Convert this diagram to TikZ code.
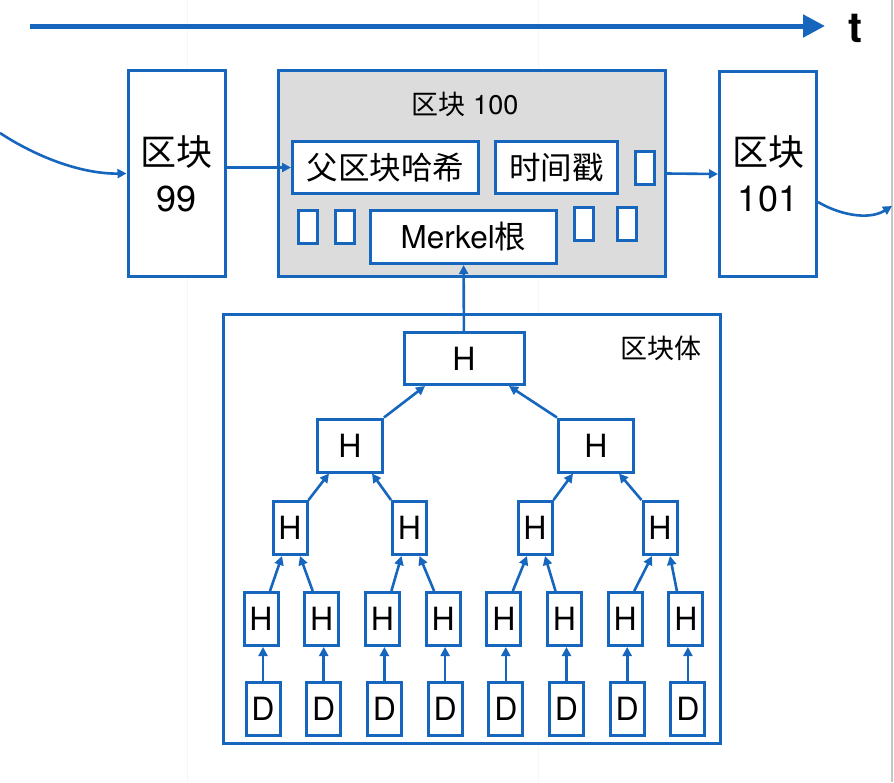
\documentclass[tikz,border=0pt]{standalone}
\usepackage{fontspec}
\setmainfont{TeX Gyre Heros}
\newfontfamily\cjk{Noto Sans CJK SC}
\usetikzlibrary{arrows.meta,positioning,shadows}
\definecolor{chainblue}{RGB}{22,102,190}
\definecolor{headgray}{RGB}{220,220,220}
\newcommand\blockfont{\fontsize{36}{46}\selectfont}
\newcommand\fieldfont{\fontsize{31.5}{31.5}\selectfont}
\newcommand\labelfont{\fontsize{27}{27}\selectfont}
\newcommand\hashfont{\fontsize{32}{32}\selectfont}

\begin{document}
\begin{tikzpicture}[x=1pt,y=-1pt]
\tikzstyle{box}=[draw=chainblue,line width=3pt,fill=white,inner sep=0pt,
drop shadow={opacity=0.2,shadow xshift=1pt,shadow yshift=-1.5pt}]
\tikzstyle{hbox}=[box,minimum width=34pt,minimum height=53pt,
font=\hashfont,node distance=60.7pt]
\tikzstyle{slot}=[box,minimum width=19pt,minimum height=33pt]
\tikzstyle{link}=[color=chainblue,line width=2.6pt,-{Triangle[length=9pt,width=9pt]}]

\useasboundingbox (0,0) rectangle (894,782);
% page guides
\draw[gray!7,line width=1pt] (187,0) -- (187,782);
\draw[gray!7,line width=1pt] (538,0) -- (538,782);
\draw[gray!45,line width=1.5pt] (892,0) -- (892,782);

% time axis
\coordinate (tstart) at (30,26);
\coordinate (tend) at (825,26);
\node[font=\fontsize{42}{42}\selectfont\bfseries] (tlab) at (855,28) {t};
\draw[chainblue,line width=5pt,-{Triangle[length=22pt,width=22pt]}] (tstart) -- (tend);

% chain of blocks
\node[box,minimum width=97pt,minimum height=206pt,align=center,font=\blockfont]
  (b99) at (176.5,173.5) {{\cjk 区块}\\99};
\node[box,fill=headgray,minimum width=387pt,minimum height=206pt] (b100) at (472,173.5) {};
\node[box,minimum width=97pt,minimum height=205pt,align=center,font=\blockfont]
  (b101) at (768,174) {{\cjk 区块}\\101};
\node[font=\labelfont] (lab100) at (465,104) {{\cjk 区块} 100};
\node[box,minimum width=186pt,minimum height=52pt,font=\fieldfont] (phash) at (385.5,167.5) {\cjk 父区块哈希};
\node[box,minimum width=122pt,minimum height=52pt,font=\fieldfont] (tstamp) at (556.5,167.5) {\cjk 时间戳};
\node[slot] (s1) at (645,167.5) {};
\node[slot] (s2) at (307.5,227) {};
\node[slot] (s3) at (345,227) {};
\node[box,minimum width=186pt,minimum height=53pt,font=\fieldfont] (mroot) at (463.5,237) {Merkel{\cjk 根}};
\node[slot] (s4) at (584,224) {};
\node[slot] (s5) at (627,224) {};

\coordinate (inL) at (0,133);
\coordinate (outR) at (892,206);
\draw[link] (inL) .. controls (35,156) and (80,174) .. (b99.west);
\draw[link] (b99.east |- phash.west) -- (phash.west);
\draw[link] (b100.east) -- (b101.west);
\draw[link] ([yshift=-28pt]b101.east) .. controls (838,214) and (868,221) .. (outR);

% block body
\node[box,minimum width=497pt,minimum height=429pt] (body) at (472,529) {};
\node[font=\labelfont] (bodylab) at (661,348) {\cjk 区块体};

\node[box,minimum width=120pt,minimum height=52pt,font=\hashfont] (hroot) at (464,358.5) {H};
\node[box,minimum width=65pt,minimum height=53pt,font=\hashfont] (h21) at (350,445.5) {H};
\node[box,minimum width=75pt,minimum height=53pt,font=\hashfont] (h22) at (596,445.5) {H};
\node[hbox] (h31) at (290,528) {H};
\node[hbox] (h32) at (409.5,528) {H};
\node[hbox] (h33) at (535,528) {H};
\node[hbox] (h34) at (660,528) {H};
\node[hbox] (h41) at (261,619) {H};
\node[hbox,right of=h41] (h42) {H};
\node[hbox,right of=h42] (h43) {H};
\node[hbox,right of=h43] (h44) {H};
\node[hbox,right of=h44] (h45) {H};
\node[hbox,right of=h45] (h46) {H};
\node[hbox,right of=h46] (h47) {H};
\node[hbox,right of=h47] (h48) {H};
\node[hbox,below of=h41,node distance=90pt,xshift=2pt] (d1) {D};
\node[hbox,below of=h42,node distance=90pt,xshift=2pt] (d2) {D};
\node[hbox,below of=h43,node distance=90pt,xshift=2pt] (d3) {D};
\node[hbox,below of=h44,node distance=90pt,xshift=2pt] (d4) {D};
\node[hbox,below of=h45,node distance=90pt,xshift=2pt] (d5) {D};
\node[hbox,below of=h46,node distance=90pt,xshift=2pt] (d6) {D};
\node[hbox,below of=h47,node distance=90pt,xshift=2pt] (d7) {D};
\node[hbox,below of=h48,node distance=90pt,xshift=2pt] (d8) {D};

\path[link] (hroot) edge (mroot) ;
\path[link] (h21.north east) edge ([xshift=-39pt]hroot.south) ;
\path[link] (h22.north west) edge ([xshift=45pt]hroot.south) ;
\path[link] (h31.north east) edge ([xshift=-21pt]h21.south) ;
\path[link] (h32.north west) edge ([xshift=22pt]h21.south) ;
\path[link] (h33.north east) edge ([xshift=-23pt]h22.south) ;
\path[link] (h34.north west) edge ([xshift=23pt]h22.south) ;
\path[link] ([xshift=9pt]h41.north) edge ([xshift=-8pt]h31.south) ;
\path[link] ([xshift=-9pt]h42.north) edge ([xshift=10pt]h31.south) ;
\path[link] ([xshift=9pt]h43.north) edge ([xshift=-8pt]h32.south) ;
\path[link] ([xshift=-9pt]h44.north) edge ([xshift=10pt]h32.south) ;
\path[link] ([xshift=9pt]h45.north) edge ([xshift=-8pt]h33.south) ;
\path[link] ([xshift=-9pt]h46.north) edge ([xshift=10pt]h33.south) ;
\path[link] ([xshift=9pt]h47.north) edge ([xshift=-8pt]h34.south) ;
\path[link] ([xshift=-9pt]h48.north) edge ([xshift=10pt]h34.south) ;
\path[link] (d1) edge (h41.south -| d1) ;
\path[link] (d2) edge (h42.south -| d2) ;
\path[link] (d3) edge (h43.south -| d3) ;
\path[link] (d4) edge (h44.south -| d4) ;
\path[link] (d5) edge (h45.south -| d5) ;
\path[link] (d6) edge (h46.south -| d6) ;
\path[link] (d7) edge (h47.south -| d7) ;
\path[link] (d8) edge (h48.south -| d8) ;

\end{tikzpicture}
\end{document}
